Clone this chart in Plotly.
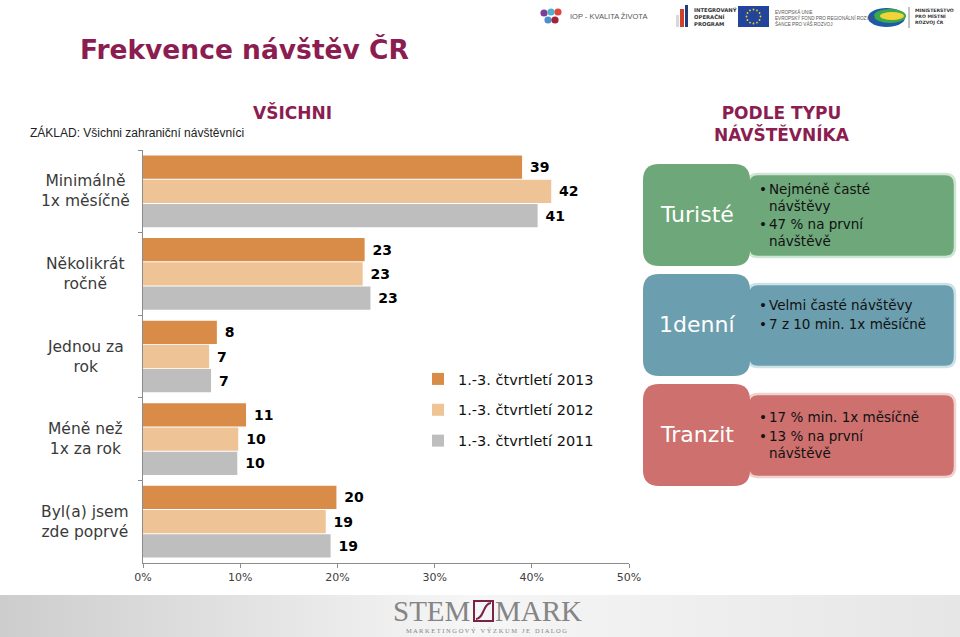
import math
import plotly.graph_objects as go

# ---------------- data ----------------
categories = ["Minimálně<br>1x měsíčně", "Několikrát<br>ročně", "Jednou za<br>rok",
              "Méně než<br>1x za rok", "Byl(a) jsem<br>zde poprvé"]
series_names = ["1.-3. čtvrtletí 2013", "1.-3. čtvrtletí 2012", "1.-3. čtvrtletí 2011"]
values_2013 = [39.0, 22.8, 7.6, 10.6, 19.9]
values_2012 = [42.0, 22.6, 6.8, 9.8, 18.8]
values_2011 = [40.6, 23.4, 7.0, 9.7, 19.3]
series_values = [values_2013, values_2012, values_2011]
x_ticks = [0, 10, 20, 30, 40, 50]
x_tick_labels = ["0%", "10%", "20%", "30%", "40%", "50%"]

panel_titles = ["Turisté", "1denní", "Tranzit"]
panel_bullets = [
    [["Nejméně časté", "návštěvy"], ["47 % na první", "návštěvě"]],
    [["Velmi časté návštěvy"], ["7 z 10 min. 1x měsíčně"]],
    [["17 % min. 1x měsíčně"], ["13 % na první", "návštěvě"]],
]

# ---------------- style ----------------
W, H = 960, 637
colors = ["#D98C48", "#EEC396", "#BEBEBE"]
panel_colors = ["#6DA77A", "#6B9EAE", "#CD706E"]
panel_borders = ["#CFE5D4", "#CDE2E8", "#F0D2D1"]
burgundy = "#8B1D50"
FONT = "DejaVu Sans"


def X(px):
    return px / W


def Y(py):
    return 1 - py / H


def rrect(x0, y0, x1, y1, r):
    pts = [
        f"M {X(x0 + r)},{Y(y0)}", f"L {X(x1 - r)},{Y(y0)}", f"Q {X(x1)},{Y(y0)} {X(x1)},{Y(y0 + r)}",
        f"L {X(x1)},{Y(y1 - r)}", f"Q {X(x1)},{Y(y1)} {X(x1 - r)},{Y(y1)}",
        f"L {X(x0 + r)},{Y(y1)}", f"Q {X(x0)},{Y(y1)} {X(x0)},{Y(y1 - r)}",
        f"L {X(x0)},{Y(y0 + r)}", f"Q {X(x0)},{Y(y0)} {X(x0 + r)},{Y(y0)}", "Z",
    ]
    return " ".join(pts)


fig = go.Figure()
for i, (name, vals) in enumerate(zip(series_names, series_values)):
    fig.add_trace(go.Bar(
        y=categories, x=vals, name=name, orientation="h",
        marker=dict(color=colors[i], line=dict(width=0)),
        texttemplate="\u00a0%{x:.0f}", textposition="outside",
        textfont=dict(family=FONT, size=14, color="#000000", weight="bold"),
        constraintext="none", cliponaxis=False, legendgroup=f"g{i}",
        hoverinfo="skip",
    ))

shapes = []
annotations = []

# category labels (centered multi-line)
for c in categories:
    annotations.append(dict(text=c, x=X(85), xref="paper", y=c, yref="y",
                            xanchor="center", yanchor="middle", align="center",
                            showarrow=False, font=dict(family=FONT, size=15.5, color="#3A3A3A")))

# headers
annotations += [
    dict(text="Frekvence návštěv ČR", x=X(244), y=Y(50), font=dict(family=FONT, size=26.5, color=burgundy, weight="bold")),
    dict(text="VŠICHNI", x=X(292), y=Y(113), font=dict(family=FONT, size=17, color=burgundy, weight="bold")),
    dict(text="ZÁKLAD: Všichni zahraniční návštěvníci", x=X(137), y=Y(132),
         font=dict(family="Liberation Sans", size=12, color="#222222")),
    dict(text="PODLE TYPU<br>NÁVŠTĚVNÍKA", x=X(782), y=Y(124), align="center",
         font=dict(family=FONT, size=17, color=burgundy, weight="bold")),
]
for a in annotations[-4:]:
    a.update(xref="paper", yref="paper", xanchor="center", yanchor="middle", showarrow=False)

# right-hand panels
panel_tops = [164, 274, 384]
bullet_line_y = [[[189, 206], [224, 241]], [[305], [324]], [[417], [436, 453]]]
for k in range(3):
    t = panel_tops[k]
    shapes.append(dict(type="path", path=rrect(748, t + 10, 955, t + 93, 10), xref="paper", yref="paper",
                       fillcolor=panel_colors[k], line=dict(color=panel_borders[k], width=2.5)))
    shapes.append(dict(type="path", path=rrect(643, t, 750, t + 102, 16), xref="paper", yref="paper",
                       fillcolor=panel_colors[k], line=dict(width=0)))
    annotations.append(dict(text=panel_titles[k], x=X(697), y=Y(t + 50), xref="paper", yref="paper",
                            xanchor="center", yanchor="middle", showarrow=False,
                            font=dict(family=FONT, size=22, color="#FFFFFF")))
    for item, ys in zip(panel_bullets[k], bullet_line_y[k]):
        annotations.append(dict(text="•", x=X(757), y=Y(ys[0]), xref="paper", yref="paper",
                                xanchor="left", yanchor="middle", showarrow=False,
                                font=dict(family=FONT, size=13.5, color="#111111")))
        for line, yy in zip(item, ys):
            annotations.append(dict(text=line, x=X(767), y=Y(yy), xref="paper", yref="paper",
                                    xanchor="left", yanchor="middle", showarrow=False,
                                    font=dict(family=FONT, size=13.5, color="#111111")))

# ---------- top logos (decorative) ----------
for (cx, cy, col) in [(544, 13, "#7B3F98"), (551, 12, "#4FB3C8"), (558, 12, "#E0463B"),
                      (548, 20, "#4B8FD1"), (555, 20, "#A3223B")]:
    shapes.append(dict(type="circle", xref="paper", yref="paper", x0=X(cx - 3.6), x1=X(cx + 3.6),
                       y0=Y(cy + 3.6), y1=Y(cy - 3.6), fillcolor=col, line=dict(width=0)))
annotations.append(dict(text="IOP - KVALITA ŽIVOTA", x=X(568), y=Y(17), xref="paper", yref="paper",
                        xanchor="left", yanchor="middle", showarrow=False,
                        font=dict(family="Liberation Sans", size=7.5, color="#555555")))
for (x0, x1, y0, col) in [(676, 679, 15, "#D9D9D9"), (680, 684, 9, "#D0402B"), (685, 688, 5, "#253A7A")]:
    shapes.append(dict(type="rect", xref="paper", yref="paper", x0=X(x0), x1=X(x1), y0=Y(27), y1=Y(y0),
                       fillcolor=col, line=dict(width=0)))
annotations.append(dict(text="INTEGROVANÝ<br>OPERAČNÍ<br>PROGRAM", x=X(692), y=Y(17), xref="paper", yref="paper",
                        xanchor="left", yanchor="middle", align="left", showarrow=False,
                        font=dict(family=FONT, size=5.3, color="#333333", weight="bold")))
shapes.append(dict(type="rect", xref="paper", yref="paper", x0=X(738), x1=X(769), y0=Y(27), y1=Y(6),
                   fillcolor="#22449A", line=dict(width=0)))
for s in range(12):
    ang = 2 * math.pi * s / 12
    sx, sy = 753.5 + 7 * math.cos(ang), 16.5 + 7 * math.sin(ang)
    shapes.append(dict(type="circle", xref="paper", yref="paper", x0=X(sx - 0.9), x1=X(sx + 0.9),
                       y0=Y(sy + 0.9), y1=Y(sy - 0.9), fillcolor="#F4D21F", line=dict(width=0)))
annotations.append(dict(text="EVROPSKÁ UNIE<br>EVROPSKÝ FOND PRO REGIONÁLNÍ ROZVOJ<br>ŠANCE PRO VÁŠ ROZVOJ",
                        x=X(773), y=Y(18), xref="paper", yref="paper", xanchor="left", yanchor="middle",
                        align="left", showarrow=False, font=dict(family="Liberation Sans", size=4.6, color="#555555")))
shapes.append(dict(type="circle", xref="paper", yref="paper", x0=X(868), x1=X(905), y0=Y(27), y1=Y(8),
                   fillcolor="#1E5AA8", line=dict(width=0)))
shapes.append(dict(type="circle", xref="paper", yref="paper", x0=X(874), x1=X(906), y0=Y(23), y1=Y(9),
                   fillcolor="#3DAA49", line=dict(width=0)))
shapes.append(dict(type="circle", xref="paper", yref="paper", x0=X(880), x1=X(904), y0=Y(20), y1=Y(12),
                   fillcolor="#F2D33A", line=dict(width=0)))
shapes.append(dict(type="line", xref="paper", yref="paper", x0=X(909), x1=X(909), y0=Y(28), y1=Y(7),
                   line=dict(color="#888888", width=1)))
annotations.append(dict(text="MINISTERSTVO<br>PRO MÍSTNÍ<br>ROZVOJ ČR", x=X(913), y=Y(16), xref="paper", yref="paper",
                        xanchor="left", yanchor="middle", align="left", showarrow=False,
                        font=dict(family=FONT, size=4.6, color="#333333", weight="bold")))

# ---------- footer ----------
n_strips = 120
for s in range(n_strips):
    x0, x1 = W * s / n_strips, W * (s + 1) / n_strips
    mid = (x0 + x1) / 2
    if mid < 470:
        v = 205 + (246 - 205) * (mid / 470)
    else:
        v = 246 - (246 - 230) * ((mid - 470) / 490)
    g = int(round(v))
    shapes.append(dict(type="rect", xref="paper", yref="paper", x0=X(x0), x1=X(x1 + 1), y0=0, y1=Y(595),
                       fillcolor=f"rgb({g},{g},{g})", line=dict(width=0)))
annotations += [
    dict(text="STEM", x=X(431), y=Y(611), font=dict(family="Liberation Serif", size=29, color="#858585")),
    dict(text="MARK", x=X(538), y=Y(611), font=dict(family="Liberation Serif", size=29, color="#858585")),
    dict(text="M A R K E T I N G O V Ý   V Ý Z K U M   J E   D I A L O G", x=X(486), y=Y(630),
         font=dict(family="Liberation Serif", size=6.5, color="#858585")),
]
for a in annotations[-3:]:
    a.update(xref="paper", yref="paper", xanchor="center", yanchor="middle", showarrow=False)
shapes.append(dict(type="rect", xref="paper", yref="paper", x0=X(474), x1=X(493), y0=Y(621), y1=Y(601),
                   fillcolor="rgba(0,0,0,0)", line=dict(color="#7B2346", width=2)))
shapes.append(dict(type="path", xref="paper", yref="paper",
                   path=f"M {X(476)},{Y(619)} C {X(484)},{Y(619)} {X(483)},{Y(603)} {X(491)},{Y(603)}",
                   line=dict(color="#7B2346", width=2)))

fig.update_layout(
    width=W, height=H, autosize=False,
    margin=dict(l=0, r=0, t=0, b=0),
    paper_bgcolor="#FFFFFF", plot_bgcolor="#FFFFFF",
    barmode="group", bargap=0.12, bargroupgap=0.04,
    font=dict(family=FONT),
    xaxis=dict(domain=[X(143), X(629)], range=[0, 50], tickmode="array",
               tickvals=x_ticks, ticktext=x_tick_labels,
               showgrid=False, zeroline=False, showline=True, linecolor="#8C8C8C", linewidth=1,
               ticks="outside", ticklen=4, tickcolor="#8C8C8C",
               tickfont=dict(family=FONT, size=11, color="#404040"), automargin=False, fixedrange=True),
    yaxis=dict(domain=[Y(563), Y(150)], type="category", autorange="reversed",
               showgrid=False, zeroline=False, showline=True, linecolor="#8C8C8C", linewidth=1,
               ticks="outside", ticklen=4, tickcolor="#8C8C8C", tickson="boundaries",
               showticklabels=False, automargin=False, fixedrange=True),
    legend=dict(x=X(418), y=Y(363), xanchor="left", yanchor="top", traceorder="grouped",
                tracegroupgap=9, font=dict(family=FONT, size=14.5, color="#111111"),
                bgcolor="rgba(0,0,0,0)"),
    shapes=shapes, annotations=annotations, showlegend=True,
)

fig.write_html("out.html")
